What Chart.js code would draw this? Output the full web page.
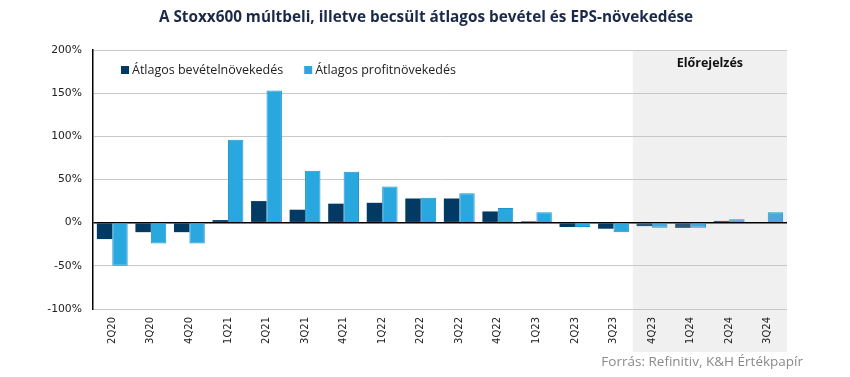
<!DOCTYPE html>
<html><head><meta charset="utf-8">
<script src="https://cdn.jsdelivr.net/npm/chart.js@4.4.1/dist/chart.umd.min.js"></script>
<style>html,body{margin:0;padding:0;background:#fff}#wrap{width:850px;height:377px;position:relative}</style>
</head><body><div id="wrap"><canvas id="c" width="850" height="377"></canvas></div>
<script>
const categories = ['2Q20','3Q20','4Q20','1Q21','2Q21','3Q21','4Q21','1Q22','2Q22','3Q22','4Q22','1Q23','2Q23','3Q23','4Q23','1Q24','2Q24','3Q24'];
const revenueGrowth = [-19,-11,-11,3,25,15,22,23,28,28,13,1.5,-5,-7,-4,-6,2,0];
const profitGrowth = [-50,-24,-24,96,153,60,59,42,29,34,17,12,-5,-11,-6,-6,4,12];
const yTicks = [-100,-50,0,50,100,150,200];
const forecastStart = 14;
const titleText = 'A Stoxx600 múltbeli, illetve becsült átlagos bevétel és EPS-növekedése';
const sourceText = 'Forrás: Refinitiv, K&H Értékpapír';
const forecastLabel = 'Előrejelzés';

const darkC = '#033a63', lightC = '#29a8e0';
const darkF = '#2f5577', lightF = '#4aa7d9';
const revColors = categories.map((c,i)=> i>=forecastStart ? darkF : darkC);
const profColors = categories.map((c,i)=> i>=forecastStart ? lightF : lightC);

const bgPlugin = {
  id:'bg',
  beforeDraw(chart){
    const {ctx, chartArea, scales} = chart;
    const x0 = scales.x.getPixelForValue(forecastStart - 0.5);
    ctx.save();
    ctx.fillStyle = '#f0f0f0';
    ctx.fillRect(x0, chartArea.top, chartArea.right - x0, 352 - chartArea.top);
    ctx.restore();
  },
  afterDraw(chart){
    const {ctx, chartArea, scales} = chart;
    ctx.save();
    ctx.fillStyle = '#1b2a4a';
    ctx.font = 'bold 15.3px "Open Sans"';
    ctx.textAlign = 'center'; ctx.textBaseline = 'middle';
    ctx.fillText(titleText, 426, 18);
    const x0 = scales.x.getPixelForValue(forecastStart - 0.5);
    ctx.fillStyle = '#111';
    ctx.font = 'bold 12.5px "Open Sans"';
    ctx.fillText(forecastLabel, (x0 + chartArea.right)/2, 63);
    ctx.fillStyle = '#8a8a8a';
    ctx.font = '13.5px "Open Sans"';
    ctx.textAlign = 'right';
    ctx.fillText(sourceText, 803, 362);
    // legend
    ctx.textAlign = 'left';
    ctx.font = '12.5px "Open Sans"';
    let x = 121;
    const items = chart.data.datasets.map((d,i)=>({text:d.label, color: i===0?darkC:lightC}));
    items.forEach(it=>{
      ctx.fillStyle = it.color;
      ctx.fillRect(x, 66, 8, 8);
      ctx.fillStyle = '#222';
      ctx.fillText(it.text, x + 11, 70.5);
      x += 11 + ctx.measureText(it.text).width + 21;
    });
    ctx.restore();
  }
};

new Chart(document.getElementById('c'), {
  type:'bar',
  data:{
    labels: categories,
    datasets:[
      {label:'Átlagos bevételnövekedés', data: revenueGrowth, backgroundColor: revColors, borderColor: revColors, borderWidth:0},
      {label:'Átlagos profitnövekedés', data: profitGrowth, backgroundColor: profColors, borderColor: '#1e93cc', borderWidth:1}
    ]
  },
  plugins:[bgPlugin],
  options:{
    responsive:false, animation:false,
    layout:{padding:{top:50,left:0,right:63,bottom:0}},
    datasets:{bar:{categoryPercentage:0.8, barPercentage:1.0}},
    plugins:{
      title:{display:false},
      tooltip:{enabled:false},
      legend:{display:false}
    },
    scales:{
      x:{
        grid:{display:false, drawTicks:false},
        border:{display:false},
        ticks:{maxRotation:90, minRotation:90, autoSkip:false, color:'#222', font:{family:'DejaVu Sans', size:10}, padding:8},
        afterFit(s){ s.height = 68; }
      },
      y:{
        min:-100, max:200,
        afterBuildTicks(s){ s.ticks = yTicks.map(v=>({value:v})); },
        grid:{color:(c)=> c.tick && c.tick.value===0 ? '#000' : '#c8c8c8', lineWidth:(c)=> c.tick && c.tick.value===0 ? 1.5 : 1, drawTicks:false},
        border:{display:true, color:'#000', width:1.5},
        ticks:{color:'#222', font:{family:'DejaVu Sans', size:10.8}, padding:11, callback:v=>v+'%'},
        afterFit(s){ s.width = 93; }
      }
    }
  }
});
</script></body></html>
